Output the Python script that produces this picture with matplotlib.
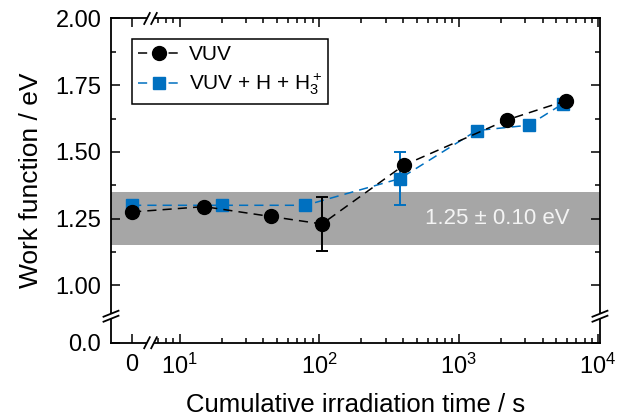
import numpy as np
import matplotlib
matplotlib.use("Agg")
import matplotlib.pyplot as plt
from matplotlib.ticker import FixedLocator, FixedFormatter, NullFormatter
from matplotlib.lines import Line2D

plt.rcParams['font.family'] = ['Liberation Sans', 'DejaVu Sans']
plt.rcParams['mathtext.fontset'] = 'custom'
plt.rcParams['mathtext.rm'] = 'Liberation Sans'
plt.rcParams['mathtext.it'] = 'Liberation Sans:italic'
plt.rcParams['mathtext.default'] = 'regular'

# ---- data -------------------------------------------------------------
vuv_time = [0, 15, 45, 105, 405, 2230, 5900]
vuv_wf = [1.275, 1.295, 1.258, 1.230, 1.450, 1.620, 1.692]
vuv_err = [0, 0, 0, 0.10, 0, 0, 0]

h_time = [0, 20, 80, 380, 1350, 3180, 5580]
h_wf = [1.30, 1.30, 1.30, 1.40, 1.58, 1.60, 1.68]
h_err = [0, 0, 0, 0.10, 0, 0, 0]

band_center = 1.25
band_half = 0.10

x_major = [0, 10, 100, 1000, 10000]
x_major_labels = ['0', '$10^1$', '$10^2$', '$10^3$', '$10^4$']
y_major = [0.0, 1.00, 1.25, 1.50, 1.75, 2.00]
y_major_labels = ['0.0', '1.00', '1.25', '1.50', '1.75', '2.00']
y_minor = [1.125, 1.375, 1.625, 1.875]

BLUE = '#0070c0'

# ---- broken scales -----------------------------------------------------
# x: a short linear stub holding t = 0, then a log axis from ~7 s upward
ZERO_POS = 0.66


def x_fwd(x):
    x = np.asarray(x, dtype=float)
    safe = np.where(x < 1, 1.0, x)
    return np.where(x < 1, x + ZERO_POS, np.log10(safe))


def x_inv(p):
    p = np.asarray(p, dtype=float)
    return np.where(p < 0.75, p - ZERO_POS, 10.0 ** p)


# y: 0.0 sits on the bottom spine, the main range starts just below 1.0
Y0_POS = 0.785


def y_fwd(y):
    y = np.asarray(y, dtype=float)
    return np.where(y < 0.5, Y0_POS + 0.05 * y, y)


def y_inv(p):
    p = np.asarray(p, dtype=float)
    return np.where(p < 0.8, (p - Y0_POS) / 0.05, p)


fig = plt.figure(figsize=(6.24, 4.2), dpi=100)
ax = fig.add_axes([0.1779, 0.184, 0.7836, 0.772])
ax.set_xscale('function', functions=(x_fwd, x_inv))
ax.set_yscale('function', functions=(y_fwd, y_inv))
ax.set_xlim(-0.151, 10 ** 4.014)
ax.set_ylim(0.0, 2.0)

# reference band
ax.axhspan(band_center - band_half, band_center + band_half,
           color='#a6a6a6', lw=0, zorder=0)
ax.text(1890, band_center, f'{band_center:.2f} ± {band_half:.2f} eV',
        color='#f4f4f4', fontsize=16, ha='center', va='center', zorder=1)

# series
h_line, = ax.plot(h_time, h_wf, ls=(0, (6, 4)), color=BLUE, lw=1.1,
                  marker='s', ms=8.5, mfc=BLUE, mec=BLUE, zorder=3,
                  label='VUV + H + H$_3^+$')
vuv_line, = ax.plot(vuv_time, vuv_wf, ls=(0, (6, 4)), color='black', lw=1.1,
                    marker='o', ms=10, mfc='black', mec='black', zorder=4,
                    label='VUV')

for t, w, e, c, z in ((h_time, h_wf, h_err, BLUE, 2.5),
                      (vuv_time, vuv_wf, vuv_err, 'black', 3.5)):
    idx = [i for i, v in enumerate(e) if v > 0]
    ax.errorbar([t[i] for i in idx], [w[i] for i in idx],
                yerr=[e[i] for i in idx], fmt='none', ecolor=c,
                elinewidth=1.4, capsize=4.2, capthick=1.4, zorder=z)

# ticks
x_minor = [7, 8, 9] + [k * 10 ** d for d in (1, 2, 3) for k in range(2, 10)]
ax.xaxis.set_major_locator(FixedLocator(x_major))
ax.xaxis.set_major_formatter(FixedFormatter(x_major_labels))
ax.xaxis.set_minor_locator(FixedLocator(x_minor))
ax.xaxis.set_minor_formatter(NullFormatter())
ax.yaxis.set_major_locator(FixedLocator(y_major))
ax.yaxis.set_major_formatter(FixedFormatter(y_major_labels))
ax.yaxis.set_minor_locator(FixedLocator(y_minor))
ax.yaxis.set_minor_formatter(NullFormatter())

ax.tick_params(which='both', direction='in', top=True, right=True,
               width=1.1, labelsize=17)
ax.tick_params(axis='x', pad=8)
ax.tick_params(axis='y', pad=7)
ax.tick_params(which='major', length=6.5)
ax.tick_params(which='minor', length=3.5)
for s in ax.spines.values():
    s.set_linewidth(1.3)

ax.set_xlabel('Cumulative irradiation time / s', fontsize=18.5, labelpad=10)
ax.set_ylabel('Work function / eV', fontsize=19, labelpad=9)

# axis-break marks
W_PX, H_PX = 489.0, 324.2
trans = ax.transAxes


def seg(x0, y0, x1, y1, **kw):
    ax.add_line(Line2D([x0, x1], [y0, y1], transform=trans, clip_on=False,
                       **kw))


for yb in (0.0, 1.0):
    xa, xb = 36 / W_PX, 43 / W_PX
    seg(xa, yb, xb, yb, color='white', lw=3, zorder=5,
        solid_capstyle='butt')
    for xc in (xa, xb):
        seg(xc - 2.8 / W_PX, yb - 5.5 / H_PX, xc + 2.8 / W_PX, yb + 5.5 / H_PX,
            color='black', lw=1.3, zorder=6)

for xb_ in (0.0, 1.0):
    ya, yb2 = 24.0 / H_PX, 29.0 / H_PX
    seg(xb_, ya, xb_, yb2, color='white', lw=3, zorder=5,
        solid_capstyle='butt')
    for yc in (ya, yb2):
        seg(xb_ - 7.5 / W_PX, yc - 3 / H_PX, xb_ + 7.5 / W_PX, yc + 3 / H_PX,
            color='black', lw=1.3, zorder=6)

leg = ax.legend(handles=[vuv_line, h_line], loc='upper left',
                bbox_to_anchor=(0.0423, 0.936), borderaxespad=0,
                fontsize=15, frameon=True, fancybox=False,
                edgecolor='black', framealpha=1, handlelength=2.0,
                handletextpad=0.45, borderpad=0.3, labelspacing=0.35)
leg.get_frame().set_linewidth(1.1)

fig.savefig('out.png', dpi=100)
